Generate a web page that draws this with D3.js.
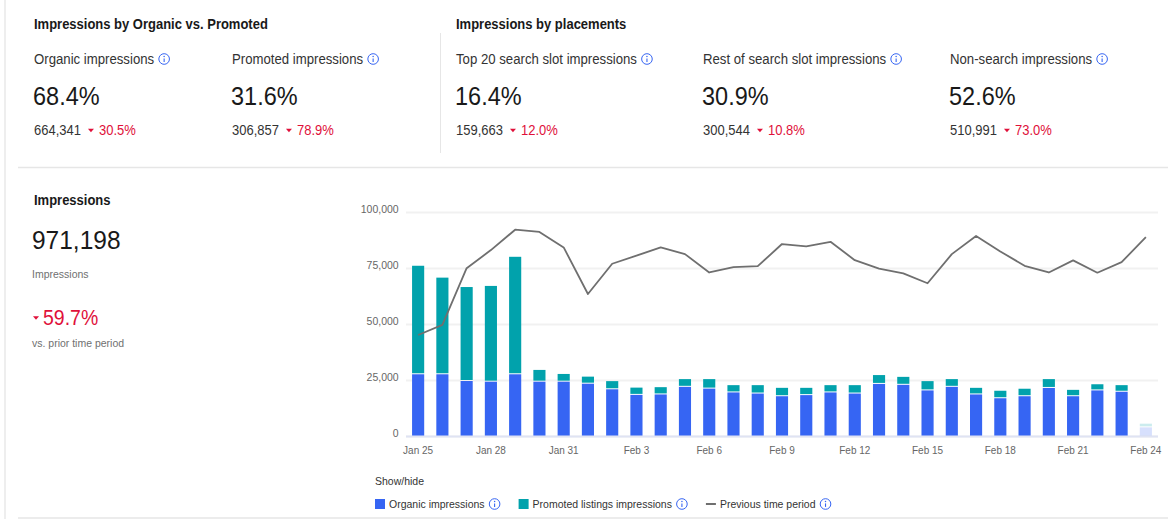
<!DOCTYPE html>
<html>
<head>
<meta charset="utf-8">
<script src="https://cdn.jsdelivr.net/npm/d3@7"></script>
<style>
  body { margin: 0; background: #fff; }
  svg text { font-family: "Liberation Sans", Arial, sans-serif; }
</style>
</head>
<body>
<svg id="chart" width="1168" height="519"></svg>
<script>
// ---- data ----
const dates = ["Jan 25", "Jan 26", "Jan 27", "Jan 28", "Jan 29", "Jan 30", "Jan 31",
    "Feb 1", "Feb 2", "Feb 3", "Feb 4", "Feb 5", "Feb 6", "Feb 7", "Feb 8", "Feb 9",
    "Feb 10", "Feb 11", "Feb 12", "Feb 13", "Feb 14", "Feb 15", "Feb 16", "Feb 17",
    "Feb 18", "Feb 19", "Feb 20", "Feb 21", "Feb 22", "Feb 23", "Feb 24"];
const organic = [28000, 28000, 25000, 24700, 28000, 24700, 24700, 23800, 21300, 18800,
    19000, 22400, 21600, 19900, 19400, 18200, 18700, 19900, 19400, 23700, 23300,
    20800, 22400, 19000, 17300, 18200, 21900, 18200, 20800, 20200, 4300];
const promoted = [48000, 42700, 41500, 42300, 52000, 4800, 3000, 2700, 3200, 2800,
    2800, 3000, 3800, 2800, 3300, 3300, 2800, 2800, 3300, 3500, 3100,
    3700, 3000, 2500, 2900, 2900, 3500, 2400, 2300, 2500, 1200];
const previous = [45100, 49600, 74900, 83000, 92100, 91100, 84200, 63400, 76900, 80500,
    84200, 81200, 73000, 75400, 75800, 85700, 84700, 86700, 78500, 74700, 72600,
    68200, 81200, 89300, 82400, 76000, 73000, 78400, 72900, 77600, 88800];
const xTickLabels = ["Jan 25", "Jan 28", "Jan 31", "Feb 3", "Feb 6", "Feb 9",
    "Feb 12", "Feb 15", "Feb 18", "Feb 21", "Feb 24"];
const yTicks = [0, 25000, 50000, 75000, 100000];

const groupTitles = ["Impressions by Organic vs. Promoted", "Impressions by placements"];
const kpiLabels = ["Organic impressions", "Promoted impressions", "Top 20 search slot impressions",
    "Rest of search slot impressions", "Non-search impressions"];
const kpiShares = ["68.4%", "31.6%", "16.4%", "30.9%", "52.6%"];
const kpiCounts = ["664,341", "306,857", "159,663", "300,544", "510,991"];
const kpiChanges = ["30.5%", "78.9%", "12.0%", "10.8%", "73.0%"];

const totalImpressions = "971,198";
const totalChange = "59.7%";
const legendLabels = ["Organic impressions", "Promoted listings impressions", "Previous time period"];

// ---- styling ----
const BLUE = '#3665f3', TEAL = '#01a2ac', RED = '#e0103a', LINE = '#6f6f6f';
const DARK = '#191919', MID = '#333', MUTED = '#707070', RULE = '#e6e6e6';
const SQUEEZE = 0.92;   // the dashboard font renders a bit narrow

const svg = d3.select('#chart');

// text drawn slightly condensed; returns its on-screen width
function label(g, x, y, str, size, fill, bold) {
    const t = g.append('text')
        .attr('transform', `translate(${x},${y}) scale(${SQUEEZE},1)`)
        .style('font-size', (size / SQUEEZE) + 'px')
        .style('font-weight', bold ? 'bold' : null)
        .style('fill', fill)
        .text(str);
    return t.node().getComputedTextLength() * SQUEEZE;
}

function infoIcon(g, cx, cy) {
    g.append('circle').attr('cx', cx).attr('cy', cy).attr('r', 5.3)
        .attr('fill', 'none').attr('stroke', BLUE).attr('stroke-width', 1);
    g.append('line').attr('x1', cx).attr('x2', cx).attr('y1', cy - 0.6).attr('y2', cy + 2.9)
        .attr('stroke', BLUE).attr('stroke-width', 1.1);
    g.append('circle').attr('cx', cx).attr('cy', cy - 2.5).attr('r', 0.75).attr('fill', BLUE);
}

function downTriangle(g, cx, cy, w) {
    const h = w * 0.6;
    g.append('path')
        .attr('d', `M${cx - w / 2},${cy - h / 2}L${cx + w / 2},${cy - h / 2}L${cx},${cy + h / 2}Z`)
        .attr('fill', RED);
}

// frame rules
svg.append('line').attr('x1', 5).attr('x2', 5).attr('y1', 0).attr('y2', 519)
    .attr('stroke', '#eeeeee').attr('stroke-width', 2);
svg.append('line').attr('x1', 18).attr('x2', 1168).attr('y1', 167.5).attr('y2', 167.5)
    .attr('stroke', RULE).attr('stroke-width', 1.5);
svg.append('line').attr('x1', 440.5).attr('x2', 440.5).attr('y1', 33).attr('y2', 153)
    .attr('stroke', RULE).attr('stroke-width', 1);
svg.append('line').attr('x1', 18).attr('x2', 1168).attr('y1', 518).attr('y2', 518)
    .attr('stroke', RULE).attr('stroke-width', 1.5);

// ---- KPI strip ----
const kpiG = svg.append('g');
[34, 456].forEach((x, i) => label(kpiG, x, 29, groupTitles[i], 13, DARK, true));

const kpiX = [34, 232, 456, 703, 950];
kpiLabels.forEach((lab, i) => {
    const x = kpiX[i];
    const g = kpiG.append('g');
    const lw = label(g, x, 64, lab, 13.2, MID);
    infoIcon(g, x + lw + 10, 59);

    label(g, x - 1, 105, kpiShares[i], 23.5, DARK);

    const cw = label(g, x, 135, kpiCounts[i], 13, MID);
    downTriangle(g, x + cw + 10, 130.5, 6);
    label(g, x + cw + 18, 135, kpiChanges[i], 13, RED);
});

// ---- total block on the left ----
const leftG = svg.append('g');
label(leftG, 34, 205, 'Impressions', 13, DARK, true);
label(leftG, 32, 249, totalImpressions, 24.5, DARK);
label(leftG, 32, 278, 'Impressions', 10.5, MUTED);
downTriangle(leftG, 36, 318, 6);
label(leftG, 43, 325, totalChange, 19.5, RED);
label(leftG, 32, 347, 'vs. prior time period', 10.5, MUTED);

// ---- chart ----
const plotLeft = 406, plotRight = 1158, plotTop = 212, plotBottom = 436;

const x = d3.scaleBand().domain(dates).range([plotLeft, plotRight])
    .paddingInner(0.5).paddingOuter(0.25);
const y = d3.scaleLinear().domain([0, 100000]).range([plotBottom, plotTop]);

const yAxis = svg.append('g').attr('transform', `translate(${plotLeft},0)`)
    .call(d3.axisLeft(y).tickValues(yTicks).tickFormat(d3.format(','))
        .tickSize(-(plotRight - plotLeft)).tickPadding(8));
yAxis.select('.domain').remove();
yAxis.selectAll('.tick line').attr('stroke', '#f1f1f1').attr('stroke-width', 2);
yAxis.selectAll('.tick text').attr('dy', '0.05em')
    .attr('transform', `scale(${SQUEEZE},1)`)
    .style('font-size', (10.5 / SQUEEZE) + 'px').style('fill', '#666');

const table = dates.map((d, i) => ({ date: d, organic: organic[i], promoted: promoted[i] }));
const stacked = d3.stack().keys(['organic', 'promoted'])(table);
const colors = { organic: BLUE, promoted: TEAL };
const lastDate = dates[dates.length - 1];

stacked.forEach(layer => {
    svg.append('g').selectAll('rect').data(layer).enter().append('rect')
        .attr('x', d => x(d.data.date))
        .attr('width', x.bandwidth())
        .attr('y', d => y(d[1]) + (layer.key === 'organic' ? 1 : 0))
        .attr('height', d => Math.max(0, y(d[0]) - y(d[1]) - (layer.key === 'organic' ? 1 : 0)))
        .attr('fill', colors[layer.key])
        .attr('opacity', d => d.data.date === lastDate ? 0.2 : 1);
});

// baseline
svg.append('line').attr('x1', plotLeft).attr('x2', plotRight)
    .attr('y1', plotBottom + 0.5).attr('y2', plotBottom + 0.5)
    .attr('stroke', '#dfe3f3').attr('stroke-width', 2);

const line = d3.line()
    .x((d, i) => x(dates[i]) + x.bandwidth() / 2)
    .y(d => y(d));
svg.append('path').datum(previous)
    .attr('d', line).attr('fill', 'none')
    .attr('stroke', LINE).attr('stroke-width', 1.8).attr('stroke-linejoin', 'round');

const xAxis = svg.append('g').attr('transform', `translate(0,${plotBottom})`)
    .call(d3.axisBottom(x).tickValues(xTickLabels).tickSize(0).tickPadding(10));
xAxis.select('.domain').remove();
xAxis.selectAll('.tick text')
    .attr('transform', `scale(${SQUEEZE},1)`)
    .style('font-size', (10 / SQUEEZE) + 'px').style('fill', '#666');

// ---- legend ----
const legendG = svg.append('g');
label(legendG, 375, 485, 'Show/hide', 10.5, MID);

let lx = 375;
legendLabels.forEach((lab, i) => {
    if (i < 2) {
        legendG.append('rect').attr('x', lx).attr('y', 499).attr('width', 10).attr('height', 10)
            .attr('fill', i === 0 ? BLUE : TEAL);
    } else {
        legendG.append('line').attr('x1', lx).attr('x2', lx + 10).attr('y1', 504).attr('y2', 504)
            .attr('stroke', LINE).attr('stroke-width', 2);
    }
    const tw = label(legendG, lx + 14, 508, lab, 10.5, MID);
    infoIcon(legendG, lx + 14 + tw + 10, 504);
    lx = lx + 14 + tw + 34;
});
</script>
</body>
</html>
